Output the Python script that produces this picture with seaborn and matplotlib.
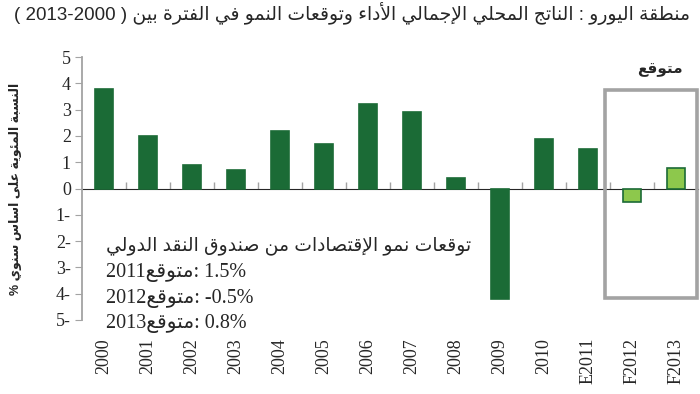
import pandas as pd
import seaborn as sns
import matplotlib.pyplot as plt
from matplotlib.patches import Rectangle

# chart data
years = ['2000', '2001', '2002', '2003', '2004', '2005', '2006', '2007',
         '2008', '2009', '2010', 'E2011', 'F2012', 'F2013']
growth = [3.8, 2.0, 0.9, 0.7, 2.2, 1.7, 3.2, 2.9, 0.4, -4.2, 1.9, 1.5, -0.5, 0.8]
kind = ['actual'] * 12 + ['forecast'] * 2
yticks = [5, 4, 3, 2, 1, 0, -1, -2, -3, -4, -5]
imf_years = ['2011', '2012', '2013']
imf_values = ['1.5%', '-0.5%', '0.8%']

title_ar = 'منطقة اليورو : الناتج المحلي الإجمالي الأداء وتوقعات النمو في الفترة بين'
title_period = '( 2013-2000 )'
ylabel_ar = 'النسبة المئوية على اساس سنوي'
forecast_ar = 'متوقع'
imf_title_ar = 'توقعات نمو الإقتصادات من صندوق النقد الدولي'

dark_green = '#1b6b36'
light_green = '#8dc84c'
grey = '#a3a3a3'

# --- minimal arabic shaping (matplotlib has no bidi / joining) ---
_letters = 'ءآأؤإئابةتثجحخدذرزسشصضطظعغفقكلمنهوىي'
_two = set('آأؤإادذرزوىة')
_forms = {}
_cp = 0xFE80
for ch in _letters:
    n = 1 if ch == 'ء' else (2 if ch in _two else 4)
    _forms[ch] = [chr(_cp + i) for i in range(n)]
    _cp += n
_lamalef = {'ا': (0xFEFB, 0xFEFC), 'أ': (0xFEF7, 0xFEF8),
            'إ': (0xFEF9, 0xFEFA), 'آ': (0xFEF5, 0xFEF6)}


def shape(text):
    out = []
    i = 0
    chars = list(text)
    while i < len(chars):
        c = chars[i]
        if c not in _forms:
            out.append(c)
            i += 1
            continue
        prev = chars[i - 1] if i > 0 else ''
        joins_prev = prev in _forms and len(_forms[prev]) == 4
        nxt = chars[i + 1] if i + 1 < len(chars) else ''
        if c == 'ل' and nxt in _lamalef:
            iso, fin = _lamalef[nxt]
            out.append(chr(fin if joins_prev else iso))
            i += 2
            continue
        f = _forms[c]
        joins_next = len(f) == 4 and nxt in _forms
        if len(f) == 1:
            out.append(f[0])
        elif joins_prev and joins_next:
            out.append(f[3])
        elif joins_prev:
            out.append(f[1])
        elif joins_next:
            out.append(f[2])
        else:
            out.append(f[0])
        i += 1
    return ''.join(out)


def rtl(text):
    return shape(text)[::-1]


df = pd.DataFrame({'year': years, 'growth': growth, 'kind': kind})

sns.set_style('white')
plt.rcParams['font.family'] = ['Liberation Serif', 'DejaVu Sans']
sans = ['Liberation Sans', 'DejaVu Sans']

fig = plt.figure(figsize=(7, 3.94), dpi=100)
ax = fig.add_axes([0.117, 0.188, 0.88, 0.667])

sns.barplot(data=df, x='year', y='growth', hue='kind',
            palette={'actual': dark_green, 'forecast': light_green},
            width=0.41, dodge=False, legend=False, ax=ax,
            edgecolor=dark_green, linewidth=1.2, saturation=1)

ax.set_xlim(-0.5, len(years) - 0.5)
ax.set_ylim(-5, 5)
ax.set_yticks(yticks)
ax.set_yticklabels([f'{abs(v)}-' if v < 0 else str(v) for v in yticks], fontsize=13)
ax.tick_params(axis='y', length=5, color=grey, pad=3, left=True)
ax.tick_params(axis='x', length=0, labelsize=13, pad=13, labelrotation=90)
ax.set_xlabel('')
ax.set_ylabel('')
for side in ['top', 'right', 'bottom']:
    ax.spines[side].set_visible(False)
ax.spines['left'].set_color(grey)
ax.spines['left'].set_linewidth(1.3)

# zero line with category separators
zero = ax.secondary_xaxis(0.5)
zero.set_xticks([i + 0.5 for i in range(len(years) - 1)])
zero.set_xticklabels([])
zero.tick_params(length=5, color=grey, width=1)
zero.spines['bottom'].set_color(grey)
zero.spines['bottom'].set_linewidth(1.3)

# forecast box
ax.add_patch(Rectangle((11.39, -4.16), 2.09, 7.9, fill=False,
                       edgecolor=grey, linewidth=2.6, clip_on=False, zorder=5))
ax.text(12.64, 4.5, rtl(forecast_ar), family=sans, fontsize=11,
        fontweight='bold', ha='center', va='center')

# IMF forecasts note
ax.text(0.05, -2.18, rtl(imf_title_ar), family=sans, fontsize=13.5,
        ha='left', va='center')
for k, (yr, val) in enumerate(zip(imf_years, imf_values)):
    ax.text(0.05, -3.2 - k * 0.97, yr + rtl(forecast_ar) + ': ' + val,
            fontsize=14.5, ha='left', va='center', clip_on=False)

fig.text(0.985, 0.965, title_period + ' ' + rtl(title_ar), family=sans,
         fontsize=13.5, ha='right', va='center')
fig.text(0.022, 0.52, '% ' + rtl(ylabel_ar), family=sans, fontsize=9,
         fontweight='bold', rotation=90, ha='center', va='center')

fig.savefig('out.png', dpi=100)
